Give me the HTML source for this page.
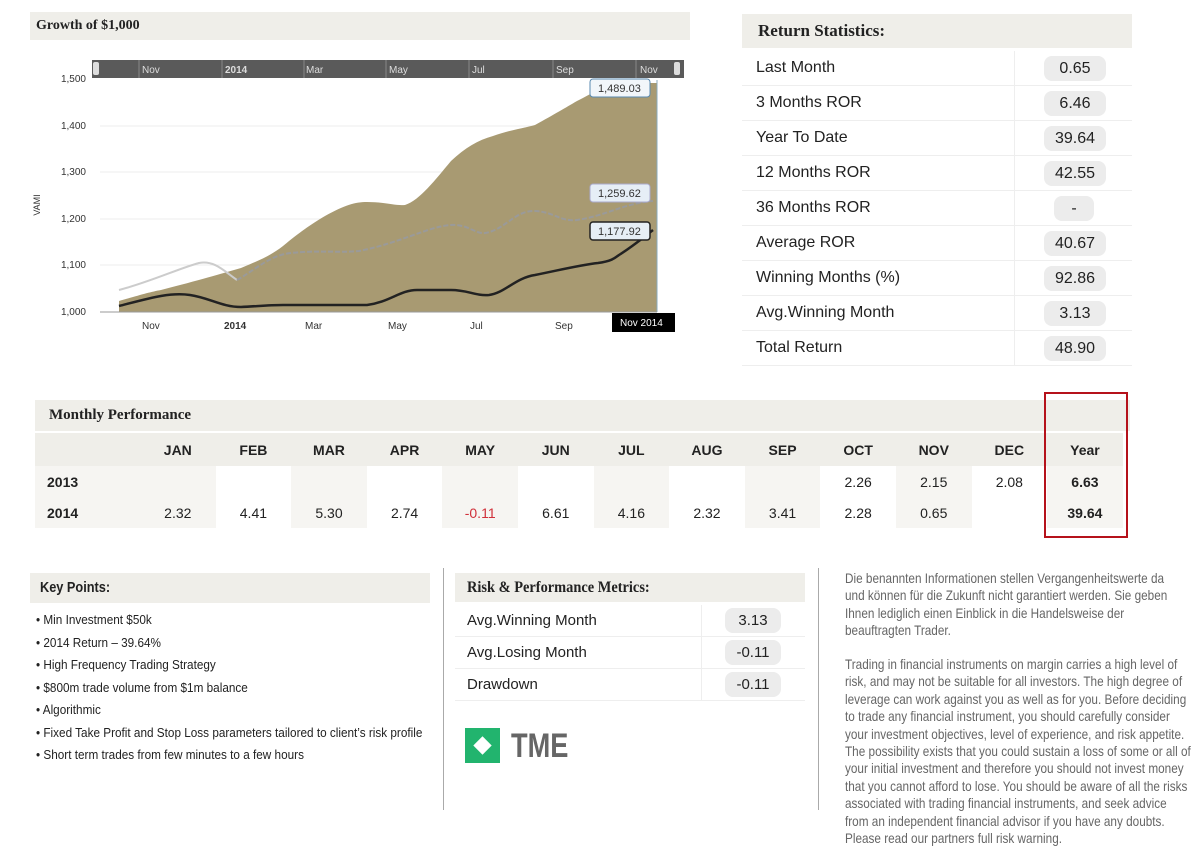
<!DOCTYPE html>
<html><head><meta charset="utf-8"><style>
body{margin:0;width:1200px;height:857px;background:#fff;position:relative;overflow:hidden;font-family:"Liberation Sans",sans-serif;color:#222}
.a{position:absolute}
.hdr{position:absolute;background:#efeee9;font-family:"Liberation Serif",serif;font-weight:bold;color:#222}
.row{position:absolute;left:742px;width:390px;height:34px;border-bottom:1px solid #eee;font-size:16px}
.row .l{position:absolute;left:14px;top:8px}
.pill{position:absolute;background:#ececec;border-radius:8px;text-align:center;font-size:16px}
.vs{position:absolute;left:272px;top:0;width:1px;height:34px;background:#eee}
.n{position:absolute;transform-origin:0 0;transform:scaleX(.8);white-space:nowrap}
.mp td{text-align:center;font-size:14px;padding:0}
</style></head><body>
<div class="hdr" style="left:30px;top:12px;width:660px;height:28px;font-size:14px;line-height:28px;padding-left:6px;box-sizing:border-box">Growth of $1,000</div>

<svg class="a" style="left:0;top:0" width="700" height="345" font-family="Liberation Sans,sans-serif">
<g stroke="#eee" stroke-width="1">
<line x1="100" y1="126" x2="657" y2="126"/><line x1="100" y1="172" x2="657" y2="172"/><line x1="100" y1="219" x2="657" y2="219"/><line x1="100" y1="265" x2="657" y2="265"/>
</g>
<path d="M119,301 C140,295 150,292 161,290 C200,280 220,274 241,268 C260,260 270,256 283,246 C300,232 310,225 325,216 C345,205 355,202 367,202 C385,202 395,206 405,205 C420,200 435,180 451,161 C465,148 478,140 493,136 C510,130 520,129 535,125 C555,114 565,108 577,101 C595,92 605,85 619,83 L657,83 L657,312 L119,312 Z" fill="#a89a72"/>
<path d="M119,290 C150,282 180,268 199,263 C215,260 225,272 237,280" fill="none" stroke="#ccc" stroke-width="2"/>
<path d="M237,280 C255,270 270,255 291,253 C320,250 340,253 359,251 C400,243 430,226 451,225 C468,224 475,234 485,233 C505,230 515,210 535,211 C555,212 560,222 577,220 C605,216 625,203 653,201" fill="none" stroke="#9a9a9a" stroke-width="2" stroke-dasharray="5,2"/>
<path d="M119,306 C150,298 170,292 190,295 C210,298 222,307 241,307 C260,306 270,305 283,305 L367,305 C390,302 400,290 417,290 L451,290 C468,290 475,296 489,295 C505,293 515,278 535,275 C560,270 580,265 598,263 C612,261 615,258 619,255 C635,245 645,236 653,230" fill="none" stroke="#222" stroke-width="2.5"/>
<line x1="657" y1="80" x2="657" y2="312" stroke="#8ab" stroke-width="1"/>
<line x1="100" y1="312" x2="657" y2="312" stroke="#999"/>
<g font-size="10" fill="#333" text-anchor="end">
<text x="86" y="82">1,500</text><text x="86" y="129">1,400</text><text x="86" y="175">1,300</text><text x="86" y="222">1,200</text><text x="86" y="268">1,100</text><text x="86" y="315">1,000</text>
</g>
<text x="40" y="205" font-size="9" fill="#333" transform="rotate(-90 40 205)" text-anchor="middle">VAMI</text>
<g font-size="10" fill="#333">
<text x="142" y="329">Nov</text><text x="224" y="329" font-weight="bold">2014</text><text x="305" y="329">Mar</text><text x="388" y="329">May</text><text x="470" y="329">Jul</text><text x="555" y="329">Sep</text>
</g>
<rect x="612" y="313" width="63" height="19" fill="#000"/>
<text x="620" y="326" font-size="10" fill="#fff">Nov 2014</text>
<rect x="92" y="60" width="592" height="18" fill="#5a5a5a"/>
<g stroke="#888"><line x1="139" y1="60" x2="139" y2="78"/><line x1="222" y1="60" x2="222" y2="78"/><line x1="304" y1="60" x2="304" y2="78"/><line x1="386" y1="60" x2="386" y2="78"/><line x1="469" y1="60" x2="469" y2="78"/><line x1="553" y1="60" x2="553" y2="78"/><line x1="636" y1="60" x2="636" y2="78"/></g>
<rect x="93" y="62" width="6" height="13" rx="2" fill="#ddd"/><rect x="674" y="62" width="6" height="13" rx="2" fill="#ddd"/>
<g font-size="10" fill="#ddd"><text x="142" y="73">Nov</text><text x="225" y="73" font-weight="bold">2014</text><text x="306" y="73">Mar</text><text x="389" y="73">May</text><text x="472" y="73">Jul</text><text x="556" y="73">Sep</text><text x="640" y="73">Nov</text></g>
<g font-size="11" fill="#333">
<rect x="590" y="79" width="60" height="18" rx="3" fill="#f2f6fa" stroke="#5a8ab0"/><text x="598" y="92">1,489.03</text>
<rect x="590" y="184" width="60" height="18" rx="3" fill="#e6eef6" stroke="#aac"/><text x="598" y="197">1,259.62</text>
<rect x="590" y="222" width="60" height="18" rx="3" fill="#e6eef6" stroke="#222" stroke-width="1.5"/><text x="598" y="235">1,177.92</text>
</g>
</svg>

<div class="hdr" style="left:742px;top:14px;width:390px;height:34px;font-size:17px;line-height:34px;padding-left:16px;box-sizing:border-box">Return Statistics:</div>
<div class="row" style="top:51px"><span class="l">Last Month</span><div class="vs"></div><div class="pill" style="left:302px;top:5px;width:62px;height:25px;line-height:25px">0.65</div></div>
<div class="row" style="top:86px"><span class="l">3 Months ROR</span><div class="vs"></div><div class="pill" style="left:302px;top:5px;width:62px;height:25px;line-height:25px">6.46</div></div>
<div class="row" style="top:121px"><span class="l">Year To Date</span><div class="vs"></div><div class="pill" style="left:302px;top:5px;width:62px;height:25px;line-height:25px">39.64</div></div>
<div class="row" style="top:156px"><span class="l">12 Months ROR</span><div class="vs"></div><div class="pill" style="left:302px;top:5px;width:62px;height:25px;line-height:25px">42.55</div></div>
<div class="row" style="top:191px"><span class="l">36 Months ROR</span><div class="vs"></div><div class="pill" style="left:312px;top:5px;width:40px;height:25px;line-height:25px">-</div></div>
<div class="row" style="top:226px"><span class="l">Average ROR</span><div class="vs"></div><div class="pill" style="left:302px;top:5px;width:62px;height:25px;line-height:25px">40.67</div></div>
<div class="row" style="top:261px"><span class="l">Winning Months (%)</span><div class="vs"></div><div class="pill" style="left:302px;top:5px;width:62px;height:25px;line-height:25px">92.86</div></div>
<div class="row" style="top:296px"><span class="l">Avg.Winning Month</span><div class="vs"></div><div class="pill" style="left:302px;top:5px;width:62px;height:25px;line-height:25px">3.13</div></div>
<div class="row" style="top:331px"><span class="l">Total Return</span><div class="vs"></div><div class="pill" style="left:302px;top:5px;width:62px;height:25px;line-height:25px">48.90</div></div>

<div class="hdr" style="left:35px;top:400px;width:1095px;height:31px;font-size:15px;line-height:31px;padding-left:14px;box-sizing:border-box">Monthly Performance</div>
<table class="mp a" style="left:35px;top:433px;border-collapse:collapse;font-weight:normal">
<colgroup><col style="width:105px"><col span="13" style="width:75.6px"></colgroup>
<tr style="height:33px;background:#efeee9;font-weight:bold"><td></td><td>JAN</td><td>FEB</td><td>MAR</td><td>APR</td><td>MAY</td><td>JUN</td><td>JUL</td><td>AUG</td><td>SEP</td><td>OCT</td><td>NOV</td><td>DEC</td><td>Year</td></tr>
<tr style="height:31px"><td style="text-align:left;padding-left:12px;font-weight:bold;background:#f6f5f2">2013</td><td style="background:#f6f5f2"></td><td></td><td style="background:#f6f5f2"></td><td></td><td style="background:#f6f5f2"></td><td></td><td style="background:#f6f5f2"></td><td></td><td style="background:#f6f5f2"></td><td>2.26</td><td style="background:#f6f5f2">2.15</td><td>2.08</td><td style="background:#f6f5f2;font-weight:bold">6.63</td></tr>
<tr style="height:31px;background:#f6f5f2"><td style="text-align:left;padding-left:12px;font-weight:bold">2014</td><td>2.32</td><td style="background:#fff">4.41</td><td>5.30</td><td style="background:#fff">2.74</td><td style="color:#d0303a">-0.11</td><td style="background:#fff">6.61</td><td>4.16</td><td style="background:#fff">2.32</td><td>3.41</td><td style="background:#fff">2.28</td><td>0.65</td><td style="background:#fff"></td><td style="font-weight:bold">39.64</td></tr>
</table>
<div class="a" style="left:1044px;top:392px;width:80px;height:142px;border:2px solid #b5121b"></div>

<div class="hdr" style="left:30px;top:573px;width:400px;height:30px;font-family:'Liberation Sans',sans-serif;font-size:15px;line-height:30px;padding-left:10px;box-sizing:border-box"><span style="display:inline-block;transform:scaleX(.85);transform-origin:0 0">Key Points:</span></div>
<div style="font-size:12.5px;color:#222">
<div class="n" style="left:36px;top:613px;transform:scaleX(.94)">• Min Investment $50k</div>
<div class="n" style="left:36px;top:636px;transform:scaleX(.94)">• 2014 Return – 39.64%</div>
<div class="n" style="left:36px;top:658px;transform:scaleX(.94)">• High Frequency Trading Strategy</div>
<div class="n" style="left:36px;top:681px;transform:scaleX(.94)">• $800m trade volume from $1m balance</div>
<div class="n" style="left:36px;top:703px;transform:scaleX(.94)">• Algorithmic</div>
<div class="n" style="left:36px;top:726px;transform:scaleX(.94)">• Fixed Take Profit and Stop Loss parameters tailored to client’s risk profile</div>
<div class="n" style="left:36px;top:748px;transform:scaleX(.94)">• Short term trades from few minutes to a few hours</div>
</div>
<div class="a" style="left:443px;top:568px;width:1px;height:242px;background:#aaa"></div>

<div class="hdr" style="left:455px;top:573px;width:350px;height:29px;font-size:16px;line-height:29px;padding-left:12px;box-sizing:border-box"><span style="display:inline-block;transform:scaleX(.9);transform-origin:0 0">Risk &amp; Performance Metrics:</span></div>
<div class="a" style="left:455px;top:605px;width:350px;font-size:15px">
<div style="position:relative;height:31px;border-bottom:1px solid #eee"><span style="position:absolute;left:12px;top:7px">Avg.Winning Month</span><div class="a" style="left:246px;top:0;width:1px;height:31px;background:#eee"></div><div class="pill" style="left:270px;top:3px;width:56px;height:25px;line-height:25px;font-size:15px">3.13</div></div>
<div style="position:relative;height:31px;border-bottom:1px solid #eee"><span style="position:absolute;left:12px;top:7px">Avg.Losing Month</span><div class="a" style="left:246px;top:0;width:1px;height:31px;background:#eee"></div><div class="pill" style="left:270px;top:3px;width:56px;height:25px;line-height:25px;font-size:15px">-0.11</div></div>
<div style="position:relative;height:31px;border-bottom:1px solid #eee"><span style="position:absolute;left:12px;top:7px">Drawdown</span><div class="a" style="left:246px;top:0;width:1px;height:31px;background:#eee"></div><div class="pill" style="left:270px;top:3px;width:56px;height:25px;line-height:25px;font-size:15px">-0.11</div></div>
</div>
<div class="a" style="left:465px;top:728px;width:35px;height:35px;background:#22b46e"></div>
<div class="a" style="left:476px;top:739px;width:13px;height:13px;background:#fff;transform:rotate(45deg)"></div>
<div class="a" style="left:511px;top:726px;font-size:34px;font-weight:bold;color:#666;transform:scaleX(.8);transform-origin:0 0;line-height:40px">TME</div>
<div class="a" style="left:818px;top:568px;width:1px;height:242px;background:#aaa"></div>

<div style="font-size:14px;color:#666;line-height:17.4px">
<div class="n" style="left:845px;top:570px;transform:scaleX(.84)">Die benannten Informationen stellen Vergangenheitswerte da<br>und können für die Zukunft nicht garantiert werden. Sie geben<br>Ihnen lediglich einen Einblick in die Handelsweise der<br>beauftragten Trader.</div>
<div class="n" style="left:845px;top:656px;transform:scaleX(.84)">Trading in financial instruments on margin carries a high level of<br>risk, and may not be suitable for all investors. The high degree of<br>leverage can work against you as well as for you. Before deciding<br>to trade any financial instrument, you should carefully consider<br>your investment objectives, level of experience, and risk appetite.<br>The possibility exists that you could sustain a loss of some or all of<br>your initial investment and therefore you should not invest money<br>that you cannot afford to lose. You should be aware of all the risks<br>associated with trading financial instruments, and seek advice<br>from an independent financial advisor if you have any doubts.<br>Please read our partners full risk warning.</div>
</div>
</body></html>
